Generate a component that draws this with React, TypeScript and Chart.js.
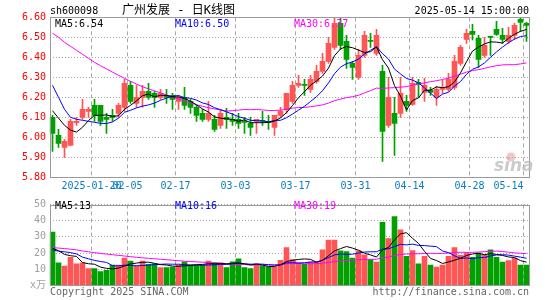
import React, { useEffect, useRef } from 'react';
import { Chart, registerables } from 'chart.js';

Chart.register(...registerables);

// ---------- data ----------
const dates = [
  '01-09', '01-10', '01-13', '01-14', '01-15', '01-16', '01-17', '01-20', '01-21', '01-22',
  '01-23', '01-24', '01-27', '02-05', '02-06', '02-07', '02-10', '02-11', '02-12', '02-13',
  '02-14', '02-17', '02-18', '02-19', '02-20', '02-21', '02-24', '02-25', '02-26', '02-27',
  '02-28', '03-03', '03-04', '03-05', '03-06', '03-07', '03-10', '03-11', '03-12', '03-13',
  '03-14', '03-17', '03-18', '03-19', '03-20', '03-21', '03-24', '03-25', '03-26', '03-27',
  '03-28', '03-31', '04-01', '04-02', '04-03', '04-07', '04-08', '04-09', '04-10', '04-11',
  '04-14', '04-15', '04-16', '04-17', '04-18', '04-21', '04-22', '04-23', '04-24', '04-25',
  '04-28', '04-29', '04-30', '05-06', '05-07', '05-08', '05-09', '05-12', '05-13', '05-14',
];

const openPrices = [
  6.10, 6.01, 5.95, 5.96, 6.073, 6.10, 6.13, 6.16, 6.16, 6.10,
  6.11, 6.12, 6.15, 6.26, 6.17, 6.20, 6.23, 6.22, 6.20, 6.21,
  6.21, 6.18, 6.20, 6.18, 6.15, 6.12, 6.09, 6.09, 6.06, 6.10,
  6.09, 6.09, 6.08, 6.07, 6.08, 6.085, 6.08, 6.05, 6.11, 6.14,
  6.18, 6.26, 6.265, 6.24, 6.28, 6.33, 6.38, 6.45, 6.57, 6.48,
  6.37, 6.30, 6.41, 6.485, 6.42, 6.33, 6.06, 6.12, 6.12, 6.18,
  6.165, 6.275, 6.225, 6.235, 6.20, 6.24, 6.24, 6.25, 6.37, 6.49,
  6.53, 6.495, 6.41, 6.505, 6.54, 6.51, 6.48, 6.51, 6.59, 6.57,
];
const highPrices = [
  6.11, 6.04, 5.99, 6.09, 6.10, 6.19, 6.15, 6.19, 6.16, 6.12,
  6.14, 6.17, 6.29, 6.28, 6.26, 6.26, 6.27, 6.23, 6.24, 6.24,
  6.22, 6.21, 6.25, 6.19, 6.16, 6.14, 6.18, 6.11, 6.14, 6.145,
  6.12, 6.12, 6.10, 6.10, 6.09, 6.13, 6.11, 6.11, 6.15, 6.22,
  6.28, 6.31, 6.29, 6.31, 6.36, 6.42, 6.50, 6.60, 6.60, 6.51,
  6.38, 6.44, 6.53, 6.52, 6.54, 6.36, 6.30, 6.20, 6.30, 6.21,
  6.30, 6.29, 6.295, 6.25, 6.255, 6.285, 6.32, 6.41, 6.46, 6.54,
  6.565, 6.51, 6.50, 6.505, 6.58, 6.545, 6.55, 6.57, 6.60, 6.575,
];
const lowPrices = [
  5.93, 5.95, 5.90, 5.96, 6.06, 6.09, 6.10, 6.08, 6.06, 6.02,
  6.08, 6.10, 6.13, 6.17, 6.15, 6.15, 6.19, 6.15, 6.19, 6.17,
  6.14, 6.14, 6.14, 6.12, 6.08, 6.08, 6.08, 6.03, 6.045, 6.045,
  6.06, 6.045, 6.02, 6.01, 6.02, 6.06, 6.04, 6.01, 6.10, 6.12,
  6.17, 6.25, 6.21, 6.225, 6.27, 6.32, 6.37, 6.44, 6.44, 6.345,
  6.29, 6.29, 6.40, 6.45, 6.41, 5.88, 6.05, 5.91, 6.10, 6.13,
  6.16, 6.20, 6.18, 6.21, 6.16, 6.22, 6.23, 6.24, 6.36, 6.47,
  6.487, 6.35, 6.40, 6.41, 6.51, 6.47, 6.47, 6.49, 6.53, 6.48,
];
const closePrices = [
  6.02, 5.97, 5.98, 6.08, 6.08, 6.14, 6.14, 6.11, 6.08, 6.09,
  6.10, 6.16, 6.27, 6.18, 6.20, 6.23, 6.20, 6.20, 6.22, 6.20,
  6.19, 6.20, 6.16, 6.15, 6.11, 6.09, 6.12, 6.04, 6.12, 6.09,
  6.08, 6.07, 6.075, 6.05, 6.09, 6.08, 6.075, 6.11, 6.13, 6.22,
  6.26, 6.27, 6.26, 6.29, 6.33, 6.38, 6.47, 6.57, 6.46, 6.39,
  6.35, 6.41, 6.51, 6.48, 6.51, 6.03, 6.20, 6.07, 6.22, 6.16,
  6.27, 6.265, 6.26, 6.225, 6.24, 6.25, 6.29, 6.38, 6.45, 6.52,
  6.515, 6.39, 6.46, 6.50, 6.515, 6.49, 6.51, 6.56, 6.575, 6.56,
];

const priceMA5 = [
  6.133, 6.096, 6.060, 6.036, 6.026, 6.050, 6.084, 6.110, 6.110, 6.112,
  6.104, 6.108, 6.140, 6.160, 6.182, 6.208, 6.216, 6.202, 6.210, 6.210,
  6.202, 6.202, 6.194, 6.180, 6.162, 6.142, 6.126, 6.102, 6.096, 6.092,
  6.090, 6.080, 6.087, 6.073, 6.073, 6.073, 6.074, 6.081, 6.097, 6.123,
  6.159, 6.198, 6.228, 6.260, 6.282, 6.306, 6.346, 6.408, 6.442, 6.454,
  6.448, 6.436, 6.424, 6.428, 6.452, 6.388, 6.346, 6.258, 6.206, 6.136,
  6.184, 6.197, 6.235, 6.236, 6.252, 6.248, 6.253, 6.277, 6.322, 6.378,
  6.431, 6.451, 6.467, 6.477, 6.476, 6.471, 6.495, 6.515, 6.530, 6.539,
];
const priceMA10 = [
  6.260, 6.200, 6.140, 6.100, 6.090, 6.085, 6.080, 6.075, 6.070, 6.069,
  6.077, 6.096, 6.125, 6.135, 6.147, 6.156, 6.162, 6.171, 6.185, 6.196,
  6.205, 6.209, 6.198, 6.195, 6.186, 6.172, 6.164, 6.148, 6.138, 6.127,
  6.116, 6.103, 6.095, 6.085, 6.083, 6.082, 6.077, 6.084, 6.085, 6.098,
  6.116, 6.136, 6.155, 6.179, 6.203, 6.233, 6.272, 6.318, 6.351, 6.368,
  6.377, 6.391, 6.416, 6.435, 6.453, 6.418, 6.391, 6.341, 6.317, 6.294,
  6.286, 6.272, 6.247, 6.221, 6.194, 6.216, 6.225, 6.256, 6.279, 6.315,
  6.340, 6.352, 6.372, 6.400, 6.427, 6.451, 6.473, 6.491, 6.504, 6.508,
];
const priceMA30 = [
  6.520, 6.500, 6.475, 6.455, 6.435, 6.415, 6.395, 6.375, 6.358, 6.342,
  6.326, 6.310, 6.295, 6.280, 6.266, 6.253, 6.242, 6.232, 6.222, 6.212,
  6.202, 6.192, 6.182, 6.172, 6.163, 6.155, 6.148, 6.142, 6.137, 6.131,
  6.133, 6.136, 6.139, 6.138, 6.139, 6.137, 6.134, 6.134, 6.136, 6.140,
  6.146, 6.149, 6.149, 6.153, 6.157, 6.162, 6.171, 6.183, 6.191, 6.198,
  6.203, 6.210, 6.222, 6.233, 6.246, 6.244, 6.247, 6.248, 6.251, 6.253,
  6.260, 6.266, 6.272, 6.278, 6.283, 6.289, 6.296, 6.305, 6.316, 6.326,
  6.334, 6.338, 6.345, 6.352, 6.358, 6.362, 6.363, 6.363, 6.367, 6.372,
];

const volumes = [
  33, 14, 12, 17.4, 13.4, 14, 10.4, 10.4, 8.6, 9.4,
  12.6, 12.6, 17, 15, 12, 15, 13, 13.4, 11, 11,
  11.4, 12.6, 14.6, 12.6, 12.6, 12.6, 15, 14, 14, 11,
  14.6, 16.4, 11, 10.4, 13.4, 12, 11.4, 11.4, 15.6, 23.4,
  16, 14, 13, 14.4, 14.4, 22, 28, 28, 21.4, 21,
  17, 21.4, 19, 16, 14.4, 39, 29, 42.6, 34.4, 18,
  21.6, 13.4, 18, 12.6, 11.4, 12.6, 18, 23.4, 18.6, 20,
  17.4, 20, 19, 22, 17.4, 14.4, 15.4, 17, 12.6, 12.6,
];
const volMA5 = [
  23, 21.5, 19.2, 18.4, 17.96, 14.16, 13.44, 13.12, 11.36, 10.56,
  10.28, 10.72, 12.04, 13.32, 13.84, 14.32, 14.4, 13.68, 12.88, 12.68,
  11.96, 11.88, 12.12, 12.44, 12.76, 13.0, 13.48, 13.36, 13.64, 13.32,
  13.72, 14.0, 13.4, 12.68, 13.16, 12.64, 11.64, 11.72, 12.76, 14.76,
  15.56, 16.08, 16.4, 16.16, 14.36, 15.56, 18.36, 21.36, 22.76, 24.08,
  23.08, 21.76, 19.96, 18.88, 17.56, 21.96, 23.48, 28.2, 31.88, 32.6,
  29.12, 26.0, 21.08, 16.72, 15.4, 13.6, 14.52, 15.6, 16.8, 18.52,
  19.48, 19.88, 19.0, 19.68, 19.16, 18.56, 17.64, 17.24, 15.36, 14.4,
];
const volMA10 = [
  22, 21.2, 20.8, 20.3, 19.5, 17.5, 16.5, 15.5, 14.8, 14.26,
  12.22, 12.08, 12.58, 12.34, 12.2, 12.3, 12.56, 12.86, 13.1, 13.26,
  13.14, 13.14, 12.9, 12.66, 12.72, 12.48, 12.68, 12.74, 13.04, 13.04,
  13.36, 13.74, 13.38, 13.16, 13.24, 13.18, 12.82, 12.56, 12.72, 13.96,
  14.1, 13.86, 14.06, 14.46, 14.56, 15.56, 17.22, 18.88, 19.46, 19.22,
  19.32, 20.06, 20.66, 20.82, 20.82, 22.52, 22.62, 24.08, 25.38, 25.08,
  25.54, 24.74, 24.64, 24.3, 24.0, 21.36, 20.26, 18.34, 16.76, 16.96,
  16.54, 17.2, 17.3, 18.24, 18.84, 19.02, 18.76, 18.12, 17.52, 16.78,
];
const volMA30 = [
  23.4, 23.1, 22.8, 22.4, 22.0, 21.3, 20.8, 20.3, 19.8, 19.4,
  19.0, 18.6, 18.2, 17.8, 17.4, 17.1, 16.8, 16.5, 16.2, 15.9,
  15.6, 15.3, 15.0, 14.8, 14.6, 14.4, 14.2, 14.0, 13.7, 13.52,
  12.91, 12.99, 12.95, 12.72, 12.72, 12.65, 12.69, 12.72, 12.95, 13.42,
  13.53, 13.58, 13.45, 13.43, 13.51, 13.74, 14.24, 14.73, 15.07, 15.41,
  15.59, 15.89, 16.03, 16.15, 16.21, 17.09, 17.55, 18.51, 19.19, 19.42,
  19.65, 19.55, 19.79, 19.86, 19.79, 19.81, 20.03, 20.43, 20.53, 20.42,
  20.47, 20.67, 20.87, 21.12, 21.22, 20.97, 20.55, 20.18, 19.89, 19.61,
];

const dateTickLabels = ['2025-01-20', '02-05', '02-17', '03-03', '03-17', '03-31', '04-14', '04-28', '05-14'];
const priceMALabels = ['MA5:6.54', 'MA10:6.50', 'MA30:6.37'];
const volumeMALabels = ['MA5:13', 'MA10:16', 'MA30:19'];
const stockCode = 'sh600098';
const chartTitle = '广州发展 - 日K线图';
const timeStamp = '2025-05-14 15:00:00';
const copyrightText = 'Copyright 2025 SINA.COM';
const urlText = 'http://finance.sina.com.cn';
const volumeUnit = 'x万';

// ---------- styles ----------
const RED = '#ff5555';
const GREEN = '#00a000';
const GRID = '#a8a8a8';
const FRAME = '#9a9a9a';
const MA_COLORS = ['#000000', '#0000ff', '#ff00ff'];
const MONO = "'DejaVu Sans Mono', 'Liberation Mono', monospace";
const CJK = "'DejaVu Sans Mono', 'Noto Sans CJK SC', sans-serif";

const candleColors = closePrices.map((c, i) => (c >= openPrices[i] ? RED : GREEN));
const labeledIndex = dateTickLabels.map((t) => dates.indexOf(t.slice(-5)));

function halfSlot(scale: any) {
  return (scale.getPixelForValue(1) - scale.getPixelForValue(0)) / 2;
}

const framePlugin = {
  id: 'frame',
  afterDatasetsDraw(chart: any) {
    const { ctx, chartArea: a } = chart;
    ctx.save();
    ctx.strokeStyle = FRAME;
    ctx.lineWidth = 1;
    const l = Math.round(a.left) + 0.5;
    const r = Math.floor(a.right) + 0.5;
    const t = Math.round(a.top) + 0.5;
    const b = Math.floor(a.bottom) + 0.5;
    ctx.strokeRect(l, t, r - l, b - t);
    ctx.restore();
  },
};

function drawMALabels(ctx: any, labels: string[], y: number) {
  const xs = [55, 175, 294];
  ctx.font = `10px ${MONO}`;
  ctx.textAlign = 'left';
  ctx.textBaseline = 'middle';
  labels.forEach((t, k) => {
    ctx.fillStyle = MA_COLORS[k];
    ctx.fillText(t, xs[k], y);
  });
}

const priceTextPlugin = {
  id: 'priceText',
  afterDraw(chart: any) {
    const ctx = chart.ctx;
    const xs = chart.scales.x;
    ctx.save();
    // header
    ctx.fillStyle = '#000';
    ctx.textBaseline = 'middle';
    ctx.font = `10px ${MONO}`;
    ctx.textAlign = 'left';
    ctx.fillText(stockCode, 50, 11);
    ctx.font = `12px ${CJK}`;
    ctx.fillText(chartTitle, 122, 11);
    ctx.font = `10px ${MONO}`;
    ctx.textAlign = 'right';
    ctx.fillText(timeStamp, 529, 11);
    // MA labels
    drawMALabels(ctx, priceMALabels, 24);
    // date labels
    ctx.font = `10px ${MONO}`;
    ctx.fillStyle = '#0a7cc2';
    const h = halfSlot(xs);
    dateTickLabels.forEach((t, k) => {
      const i = labeledIndex[k];
      const x = xs.getPixelForValue(i) - h;
      ctx.textAlign = i === dates.length - 1 ? 'right' : 'center';
      ctx.fillText(t, x, 186.5);
    });
    // watermark
    ctx.fillStyle = 'rgba(235,150,150,0.55)';
    ctx.beginPath();
    ctx.arc(511, 157, 4.5, 0, Math.PI * 2);
    ctx.fill();
    ctx.font = "italic bold 17px 'DejaVu Sans', sans-serif";
    ctx.fillStyle = 'rgba(185,185,185,0.75)';
    ctx.textAlign = 'left';
    ctx.textBaseline = 'alphabetic';
    ctx.fillText('sina', 494, 171);
    ctx.restore();
  },
};

const volumeTextPlugin = {
  id: 'volumeText',
  afterDraw(chart: any) {
    const ctx = chart.ctx;
    ctx.save();
    drawMALabels(ctx, volumeMALabels, 11.7);
    ctx.font = `10px ${MONO}`;
    ctx.fillStyle = '#666';
    ctx.textBaseline = 'middle';
    ctx.textAlign = 'left';
    ctx.fillText(copyrightText, 50, 97.5);
    ctx.textAlign = 'right';
    ctx.fillText(urlText, 529, 97.5);
    ctx.restore();
  },
};

function lineDs(label: string, data: number[], color: string) {
  return {
    type: 'line' as const,
    label,
    data,
    borderColor: color,
    borderWidth: 1,
    pointRadius: 0,
    tension: 0,
    fill: false,
    order: 0,
  };
}

const xScale = {
  offset: true,
  grid: {
    offset: true,
    drawTicks: false,
    lineWidth: 1,
    color: (c: any) => (labeledIndex.includes(c.index) ? GRID : 'rgba(0,0,0,0)'),
  },
  border: { display: false, dash: [4, 3] },
  ticks: { display: false, autoSkip: false },
};

export default function App() {
  const priceRef = useRef<HTMLCanvasElement>(null);
  const volRef = useRef<HTMLCanvasElement>(null);

  useEffect(() => {
    const price = new Chart(priceRef.current as HTMLCanvasElement, {
      type: 'bar',
      data: {
        labels: dates,
        datasets: [
          lineDs('MA5', priceMA5, MA_COLORS[0]),
          lineDs('MA10', priceMA10, MA_COLORS[1]),
          lineDs('MA30', priceMA30, MA_COLORS[2]),
          {
            type: 'bar',
            label: 'body',
            data: openPrices.map((o, i) => [o, closePrices[i]]),
            backgroundColor: candleColors,
            barThickness: 5,
            grouped: false,
            minBarLength: 1,
            order: 1,
          },
          {
            type: 'bar',
            label: 'wick',
            data: lowPrices.map((l, i) => [l, highPrices[i]]),
            backgroundColor: candleColors,
            barThickness: 1,
            grouped: false,
            order: 2,
          },
        ] as any,
      },
      options: {
        responsive: false,
        animation: false,
        events: [],
        layout: { padding: { top: 17.3, right: 15.5, left: 0, bottom: 0 } },
        plugins: { legend: { display: false }, tooltip: { enabled: false } },
        scales: {
          x: { ...xScale, afterFit: (s: any) => { s.height = 17.7; } } as any,
          y: {
            min: 5.8,
            max: 6.6,
            ticks: {
              stepSize: 0.1,
              color: '#ff0000',
              padding: 3.5,
              font: { family: MONO, size: 10 },
              callback: (v: any) => Number(v).toFixed(2),
            },
            grid: { color: GRID, drawTicks: false, lineWidth: 1 },
            border: { display: false, dash: [1, 2] },
            afterFit: (s: any) => { s.width = 49.5; },
          } as any,
        },
      },
      plugins: [framePlugin, priceTextPlugin],
    });

    const volume = new Chart(volRef.current as HTMLCanvasElement, {
      type: 'bar',
      data: {
        labels: dates,
        datasets: [
          lineDs('MA5', volMA5, MA_COLORS[0]),
          lineDs('MA10', volMA10, MA_COLORS[1]),
          lineDs('MA30', volMA30, MA_COLORS[2]),
          {
            type: 'bar',
            label: 'volume',
            data: volumes,
            backgroundColor: candleColors,
            barThickness: 5,
            grouped: false,
            order: 1,
          },
        ] as any,
      },
      options: {
        responsive: false,
        animation: false,
        events: [],
        layout: { padding: { top: 6.3, right: 15.5, left: 0, bottom: 0 } },
        plugins: { legend: { display: false }, tooltip: { enabled: false } },
        scales: {
          x: { ...xScale, afterFit: (s: any) => { s.height = 14.5; } } as any,
          y: {
            min: 0,
            max: 50,
            ticks: {
              stepSize: 10,
              color: '#a0a0a0',
              padding: 3.5,
              font: { family: CJK, size: 10 },
              callback: (v: any) => (Number(v) === 0 ? volumeUnit : String(v)),
            },
            grid: { color: GRID, drawTicks: false, lineWidth: 1 },
            border: { display: false, dash: [1, 2] },
            afterFit: (s: any) => { s.width = 49.5; },
          } as any,
        },
      },
      plugins: [framePlugin, volumeTextPlugin],
    });

    return () => {
      price.destroy();
      volume.destroy();
    };
  }, []);

  return (
    <div style={{ position: 'absolute', left: 0, top: 0, width: 545, height: 300, background: '#fff' }}>
      <canvas
        ref={priceRef}
        width={545}
        height={195}
        style={{ position: 'absolute', left: 0, top: 0, width: 545, height: 195 }}
      />
      <canvas
        ref={volRef}
        width={545}
        height={105}
        style={{ position: 'absolute', left: 0, top: 195, width: 545, height: 105 }}
      />
    </div>
  );
}
